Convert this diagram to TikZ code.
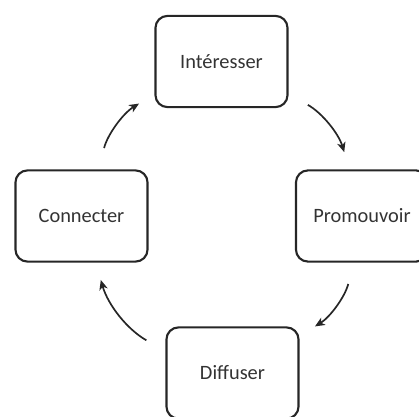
\documentclass[tikz,border=0pt]{standalone}
\usepackage{fontspec}
\setmainfont{Carlito}
\usepackage{tikz}
\usetikzlibrary{arrows.meta}

\begin{document}
\begin{tikzpicture}[x=0.025cm,y=-0.025cm,->,>={Stealth[length=7pt,width=6pt,inset=2pt]},shorten >=0.45cm,shorten <=0.55cm,
etat/.style={draw=black!85,line width=1.5pt,rounded corners=0.3cm,minimum width=3.3cm,minimum height=2.28cm,font=\fontsize{14.5}{17}\selectfont,text=black!80,inner sep=0pt},
fleche/.style={line width=1.2pt,draw=black!85,bend left=22}]
\useasboundingbox (0,0) rectangle (419,416);
\node[etat] (interesser) at (221.5,61.5) {Intéresser};
\node[etat] (promouvoir) at (362,216) {Promouvoir};
\node[etat] (diffuser) at (232.5,373) {Diffuser};
\node[etat] (connecter) at (81.5,216) {Connecter};
\path (connecter.70)	edge	[fleche]	(interesser.206)
(interesser.-26)	edge	[fleche]	(promouvoir.105)
(promouvoir.-100)	edge	[fleche]	(diffuser.29)
(diffuser.162)	edge	[fleche]	(connecter.-73)
;\end{tikzpicture}
\end{document}
